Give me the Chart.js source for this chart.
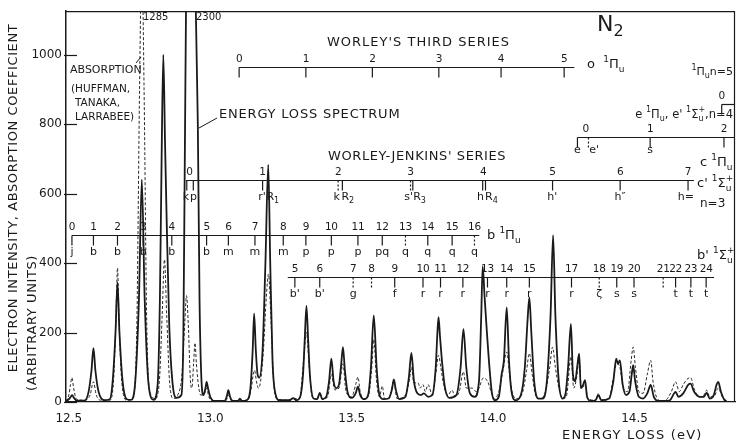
<!DOCTYPE html>
<html>
<head>
<meta charset="utf-8">
<script src="https://cdn.jsdelivr.net/npm/chart.js@4.4.0/dist/chart.umd.min.js"></script>
<style>
  html, body { margin: 0; padding: 0; background: #fff; }
</style>
</head>
<body>
<canvas id="spectrum" width="737" height="440"></canvas>
<script>
const xTicks = [12.5, 13.0, 13.5, 14.0, 14.5];
const yTicks = [0, 200, 400, 600, 800, 1000];

// energy loss spectrum (solid line), energy in eV / intensity
const lossE = [12.490, 12.500, 12.507, 12.512, 12.518, 12.528, 12.555, 12.570, 12.580, 12.587, 12.594, 12.605, 12.625,
  12.645, 12.655, 12.665, 12.672, 12.679, 12.690, 12.705, 12.720, 12.735, 12.748, 12.758, 12.768, 12.782, 12.800,
  12.814, 12.822, 12.828, 12.834, 12.840, 12.846, 12.855, 12.866, 12.880, 12.898, 12.905, 12.910, 12.916, 12.930,
  12.945, 12.956, 12.962, 12.968, 12.976, 12.983, 12.987, 12.992, 13.000, 13.015, 13.050, 13.058, 13.064, 13.070,
  13.080, 13.098, 13.105, 13.112, 13.130, 13.142, 13.150, 13.155, 13.161, 13.167, 13.173, 13.185, 13.195, 13.205,
  13.212, 13.220, 13.230, 13.245, 13.280, 13.293, 13.305, 13.318, 13.328, 13.334, 13.340, 13.346, 13.352, 13.365,
  13.378, 13.387, 13.396, 13.410, 13.420, 13.428, 13.436, 13.445, 13.455, 13.463, 13.469, 13.476, 13.485, 13.500,
  13.514, 13.522, 13.530, 13.545, 13.558, 13.568, 13.578, 13.588, 13.598, 13.612, 13.630, 13.642, 13.649, 13.656,
  13.668, 13.690, 13.702, 13.711, 13.720, 13.732, 13.745, 13.755, 13.770, 13.785, 13.797, 13.803, 13.807, 13.812,
  13.820, 13.830, 13.845, 13.870, 13.885, 13.895, 13.905, 13.918, 13.935, 13.950, 13.958, 13.963, 13.970, 13.978,
  13.985, 13.995, 14.005, 14.020, 14.030, 14.038, 14.048, 14.056, 14.065, 14.080, 14.098, 14.112, 14.122, 14.128,
  14.135, 14.145, 14.160, 14.175, 14.190, 14.203, 14.212, 14.220, 14.232, 14.245, 14.255, 14.265, 14.275, 14.282,
  14.290, 14.297, 14.304, 14.310, 14.316, 14.325, 14.332, 14.345, 14.362, 14.372, 14.382, 14.410, 14.425, 14.435,
  14.441, 14.448, 14.458, 14.470, 14.482, 14.490, 14.495, 14.502, 14.515, 14.530, 14.545, 14.557, 14.568, 14.585,
  14.610, 14.625, 14.640, 14.645, 14.655, 14.672, 14.690, 14.698, 14.710, 14.730, 14.745, 14.755, 14.765, 14.780,
  14.790, 14.796, 14.805, 14.818, 14.826];
const lossI = [3, 8, 15, 20, 12, 4, 4, 30, 90, 155, 90, 30, 5,
  8, 60, 200, 344, 200, 60, 8, 6, 60, 300, 640, 300, 50, 6,
  50, 300, 700, 1000, 750, 520, 220, 60, 12, 20, 200, 700, 1300, 2300,
  1300, 800, 300, 80, 20, 40, 58, 40, 15, 3, 3, 15, 34, 15,
  3, 3, 10, 3, 6, 40, 150, 254, 150, 80, 70, 150, 400, 683,
  400, 120, 25, 5, 5, 11, 5, 15, 80, 180, 277, 180, 80, 10,
  8, 26, 8, 15, 60, 125, 60, 40, 50, 110, 158, 90, 30, 12,
  25, 44, 20, 8, 20, 100, 249, 100, 20, 8, 10, 35, 65, 35,
  8, 15, 70, 141, 60, 25, 20, 25, 15, 20, 100, 200, 244, 190,
  110, 40, 12, 20, 100, 210, 100, 25, 15, 60, 250, 390, 300, 200,
  120, 30, 5, 15, 80, 120, 272, 120, 30, 5, 20, 100, 240, 301,
  200, 60, 10, 10, 60, 250, 480, 250, 60, 10, 20, 100, 225, 80,
  60, 100, 139, 40, 45, 63, 15, 3, 5, 20, 5, 10, 60, 125,
  110, 120, 50, 20, 30, 80, 106, 60, 15, 10, 25, 49, 15, 3,
  3, 5, 25, 29, 15, 25, 50, 53, 30, 15, 15, 27, 10, 20,
  50, 58, 30, 5, 2];

// absorption coefficient, Huffman, Tanaka, Larrabee (dashed line)
const absE = [12.490, 12.500, 12.506, 12.511, 12.517, 12.527, 12.555, 12.575, 12.587, 12.597, 12.615, 12.645, 12.658,
  12.666, 12.672, 12.678, 12.688, 12.705, 12.725, 12.740, 12.750, 12.758, 12.766, 12.776, 12.790, 12.805, 12.820,
  12.830, 12.838, 12.846, 12.856, 12.870, 12.885, 12.900, 12.910, 12.916, 12.922, 12.930, 12.935, 12.941, 12.946,
  12.951, 12.958, 12.966, 12.980, 12.987, 12.995, 13.010, 13.055, 13.064, 13.075, 13.130, 13.145, 13.152, 13.157,
  13.163, 13.170, 13.178, 13.188, 13.198, 13.206, 13.214, 13.224, 13.235, 13.270, 13.300, 13.315, 13.330, 13.340,
  13.350, 13.360, 13.378, 13.387, 13.397, 13.415, 13.428, 13.440, 13.455, 13.469, 13.480, 13.500, 13.514, 13.522,
  13.530, 13.545, 13.560, 13.570, 13.578, 13.588, 13.598, 13.608, 13.616, 13.632, 13.649, 13.660, 13.690, 13.705,
  13.711, 13.720, 13.735, 13.741, 13.752, 13.760, 13.770, 13.785, 13.797, 13.807, 13.815, 13.825, 13.840, 13.855,
  13.865, 13.880, 13.895, 13.905, 13.925, 13.940, 13.950, 13.965, 13.980, 13.995, 14.005, 14.020, 14.035, 14.048,
  14.058, 14.070, 14.085, 14.105, 14.118, 14.128, 14.138, 14.150, 14.165, 14.185, 14.200, 14.210, 14.220, 14.235,
  14.250, 14.260, 14.275, 14.285, 14.295, 14.304, 14.312, 14.325, 14.335, 14.362, 14.372, 14.382, 14.410, 14.425,
  14.437, 14.448, 14.460, 14.475, 14.488, 14.495, 14.503, 14.515, 14.530, 14.545, 14.557, 14.565, 14.580, 14.595,
  14.610, 14.630, 14.645, 14.658, 14.672, 14.685, 14.698, 14.712, 14.730, 14.745, 14.755, 14.765, 14.780, 14.796,
  14.810, 14.826];
const absK = [2, 20, 50, 70, 40, 8, 5, 20, 58, 20, 5, 5, 60,
  220, 386, 220, 50, 5, 10, 200, 900, 1285, 900, 200, 20, 10, 60,
  250, 410, 250, 60, 10, 20, 80, 230, 306, 230, 60, 40, 110, 170,
  110, 50, 20, 25, 40, 15, 3, 3, 20, 3, 5, 40, 80, 91,
  60, 40, 60, 150, 300, 368, 250, 60, 10, 5, 10, 10, 120, 200,
  100, 15, 8, 26, 8, 15, 80, 35, 40, 110, 30, 15, 50, 72,
  30, 8, 20, 90, 180, 60, 15, 46, 10, 10, 60, 10, 20, 70,
  100, 55, 55, 40, 50, 30, 50, 20, 80, 134, 100, 50, 20, 34,
  15, 30, 87, 40, 40, 30, 40, 69, 60, 25, 10, 30, 91, 144,
  80, 20, 10, 30, 90, 140, 80, 20, 10, 30, 100, 158, 100, 30,
  10, 20, 130, 40, 70, 122, 40, 50, 10, 5, 25, 5, 10, 70,
  110, 100, 40, 30, 120, 158, 100, 30, 25, 80, 120, 60, 10, 3,
  5, 30, 58, 30, 50, 65, 70, 35, 15, 20, 34, 15, 15, 40,
  15, 3];

// vibrational assignments (eV)
const worleyNum = ["0", "1", "2", "3", "4", "5"];
const worleyE = [13.102, 13.338, 13.573, 13.808, 14.028, 14.251];

const n5Num = ["0"];
const n5E = [14.808];

const eNum = ["0", "1", "2"];
const eNumE = [14.327, 14.555, 14.816];
const eTickE = [14.298, 14.337, 14.555, 14.816];
const eLab = ["e", "e'", "s"];
const eLabE = [14.298, 14.357, 14.555];

const wjNum = ["0", "1", "2", "3", "4", "5", "6", "7"];
const wjNumE = [12.926, 13.184, 13.452, 13.708, 13.965, 14.210, 14.449, 14.689];
const wjTickE = [12.917, 12.940, 13.185, 13.452, 13.467, 13.708, 13.716, 13.963, 13.973, 14.210, 14.449, 14.689];
const wjLab = ["k", "p'", "r'", "R_{1}", "k", "R_{2}", "s'", "R_{3}", "h", "R_{4}", "h'", "h\u2033", "h="];
const wjLabE = [12.914, 12.946, 13.183, 13.221, 13.447, 13.486, 13.701, 13.740, 13.955, 13.994, 14.209, 14.449, 14.681];

const bNum = ["0", "1", "2", "3", "4", "5", "6", "7", "8", "9", "10", "11", "12", "13", "14", "15", "16"];
const bE = [12.511, 12.587, 12.672, 12.763, 12.864, 12.987, 13.064, 13.158, 13.258, 13.338, 13.428, 13.522,
  13.608, 13.690, 13.769, 13.855, 13.934];
const bLab = ["j", "b", "b", "b", "b", "b", "m", "m", "m", "p", "p", "p", "pq", "q", "q", "q", "q"];

const bpNum = ["5", "6", "7", "8", "9", "10", "11", "12", "13", "14", "15", "17", "18", "19", "20", "21", "22", "23", "24"];
const bpE = [13.299, 13.387, 13.505, 13.570, 13.652, 13.752, 13.814, 13.893, 13.980, 14.048, 14.128, 14.277,
  14.375, 14.437, 14.498, 14.601, 14.645, 14.699, 14.753];
const bpLab = ["b'", "b'", "g", "", "f", "r", "r", "r", "r", "r", "r", "r", "\u03b6", "s", "s", "", "t", "t", "t"];

const FONT = '"DejaVu Sans", sans-serif';
const INK = "#1a1a1a";

const bands = [
  { level: 963, from: 13.102, to: 14.287, ticks: worleyE, dashed: [], nums: worleyNum, numE: worleyE },
  { level: 857, from: 14.808, to: null, ticks: n5E, dashed: [], nums: n5Num, numE: n5E },
  { level: 763, from: 14.298, to: null, ticks: eTickE, dashed: [1], nums: eNum, numE: eNumE,
    labs: eLab, labE: eLabE, labGap: 13 },
  { level: 640, from: 12.914, to: 14.710, ticks: wjTickE, dashed: [3, 5], nums: wjNum, numE: wjNumE,
    labs: wjLab, labE: wjLabE },
  { level: 480, from: 12.511, to: 13.951, ticks: bE, dashed: [13, 16], nums: bNum, numE: bE,
    labs: bLab, labE: bE },
  { level: 360, from: 13.274, to: 14.781, ticks: bpE, dashed: [2, 3, 12, 15], nums: bpNum, numE: bpE,
    labs: bpLab, labE: bpE },
];

// text with ^{sup} and _{sub}; a sub right after a sup is stacked under it
function parseRich(str) {
  const out = [];
  let i = 0;
  while (i < str.length) {
    if ((str[i] === "^" || str[i] === "_") && str[i + 1] === "{") {
      const j = str.indexOf("}", i);
      out.push({ t: str.slice(i + 2, j), k: str[i] === "^" ? "sup" : "sub" });
      i = j + 1;
    } else {
      let j = i;
      while (j < str.length && !((str[j] === "^" || str[j] === "_") && str[j + 1] === "{")) j++;
      out.push({ t: str.slice(i, j), k: "n" });
      i = j;
    }
  }
  return out;
}

function drawRich(ctx, str, x, y, size, align, spacing) {
  const small = Math.round(size * 0.72);
  const items = [];
  let cx = 0;
  let prev = null;
  ctx.letterSpacing = (spacing || 0) + "px";
  parseRich(str).forEach((s) => {
    const fs = s.k === "n" ? size : small;
    ctx.font = fs + "px " + FONT;
    const w = ctx.measureText(s.t).width;
    let sx = cx;
    if (s.k === "sub" && prev && prev.k === "sup") {
      sx = prev.x;
      cx = Math.max(cx, sx + w);
    } else {
      cx = sx + w;
    }
    const dy = s.k === "sup" ? -size * 0.4 : s.k === "sub" ? size * 0.32 : 0;
    const it = { t: s.t, fs: fs, x: sx, dy: dy, k: s.k };
    items.push(it);
    prev = it;
  });
  const off = align === "center" ? -cx / 2 : align === "right" ? -cx : 0;
  ctx.textAlign = "left";
  ctx.textBaseline = "middle";
  items.forEach((it) => {
    ctx.font = it.fs + "px " + FONT;
    ctx.fillText(it.t, x + off + it.x, y + it.dy);
  });
  ctx.letterSpacing = "0px";
}

function drawBand(chart, s) {
  const { ctx, chartArea: a, scales: { x, y } } = chart;
  const px = (e) => x.getPixelForValue(e);
  const ly = Math.round(y.getPixelForValue(s.level)) + 0.5;
  ctx.beginPath();
  ctx.moveTo(px(s.from), ly);
  ctx.lineTo(s.to == null ? a.right : px(s.to), ly);
  ctx.stroke();
  s.ticks.forEach((e, i) => {
    ctx.setLineDash(s.dashed.includes(i) ? [2, 2] : []);
    ctx.beginPath();
    ctx.moveTo(px(e), ly);
    ctx.lineTo(px(e), ly + 10);
    ctx.stroke();
  });
  ctx.setLineDash([]);
  s.nums.forEach((n, i) => drawRich(ctx, n, px(s.numE[i]), ly - 8, 10.5, "center", -0.3));
  (s.labs || []).forEach((l, i) => {
    if (l) drawRich(ctx, l, px(s.labE[i]), ly + (s.labGap || 17), 11, "center");
  });
}

// [text, x, y, size, align, letter spacing]
const texts = [
  ["N_{2}", 597, 25, 22, "left", 0],
  ["WORLEY'S THIRD SERIES", 327, 43, 13, "left", 1],
  ["WORLEY-JENKINS' SERIES", 328, 157, 13, "left", 0.6],
  ["ENERGY LOSS SPECTRUM", 219, 115, 13, "left", 0.8],
  ["ABSORPTION", 70, 70, 11, "left", 0],
  ["(HUFFMAN,", 71, 89, 10.5, "left", 0],
  ["TANAKA,", 75, 103, 10.5, "left", 0],
  ["LARRABEE)", 75, 117, 10.5, "left", 0],
  ["1285", 143, 17, 10, "left", 0],
  ["2300", 196, 17, 10, "left", 0],
  ["o  ^{1}\u03a0_{u}", 587, 65, 13, "left", 0],
  ["^{1}\u03a0_{u}n=5", 733, 72, 11, "right", 0],
  ["e ^{1}\u03a0_{u}, e' ^{1}\u03a3^{+}_{u},n=4", 733, 115, 11.5, "right", 0],
  ["c ^{1}\u03a0_{u}", 700, 163, 13, "left", 0],
  ["c' ^{1}\u03a3^{+}_{u}", 697, 184, 13, "left", 0],
  ["n=3", 700, 204, 12, "left", 0],
  ["b ^{1}\u03a0_{u}", 487, 236, 13, "left", 0],
  ["b' ^{1}\u03a3^{+}_{u}", 697, 256, 13, "left", 0],
  ["ENERGY LOSS (eV)", 562, 436, 13, "left", 1.2],
];

const overlay = {
  id: "overlay",
  afterDraw: (chart) => {
    const { ctx, chartArea: a, scales: { y } } = chart;
    ctx.save();
    ctx.strokeStyle = INK;
    ctx.fillStyle = INK;
    ctx.lineWidth = 1.2;

    // frame top and right
    ctx.beginPath();
    ctx.moveTo(a.left, a.top + 0.5);
    ctx.lineTo(a.right - 0.5, a.top + 0.5);
    ctx.lineTo(a.right - 0.5, a.bottom);
    ctx.stroke();

    // y tick marks cross the axis
    yTicks.forEach((v) => {
      const py = Math.round(y.getPixelForValue(v)) + 0.5;
      ctx.beginPath();
      ctx.moveTo(a.left - 2, py);
      ctx.lineTo(a.left + 11, py);
      ctx.stroke();
    });

    bands.forEach((s) => drawBand(chart, s));

    texts.forEach((t) => drawRich(ctx, t[0], t[1], t[2], t[3], t[4], t[5]));

    // leaders
    ctx.lineWidth = 1;
    ctx.beginPath();
    ctx.moveTo(136, 63);
    ctx.lineTo(141, 57);
    ctx.moveTo(217, 118);
    ctx.lineTo(199, 128);
    ctx.stroke();

    // y axis titles
    ctx.translate(14, 198);
    ctx.rotate(-Math.PI / 2);
    drawRich(ctx, "ELECTRON INTENSITY, ABSORPTION COEFFICIENT", 0, 0, 13, "center", 0.6);
    ctx.rotate(Math.PI / 2);
    ctx.translate(19, 125);
    ctx.rotate(-Math.PI / 2);
    drawRich(ctx, "(ARBITRARY UNITS)", 0, 0, 13, "center", 0.6);
    ctx.restore();
  },
};

const toPoints = (xs, ys) => xs.map((e, i) => ({ x: e, y: ys[i] }));

new Chart(document.getElementById("spectrum").getContext("2d"), {
  type: "line",
  data: {
    datasets: [
      {
        label: "Energy loss spectrum",
        data: toPoints(lossE, lossI),
        borderColor: INK,
        borderWidth: 1.8,
        pointRadius: 0,
        cubicInterpolationMode: "monotone",
        fill: false,
      },
      {
        label: "Absorption",
        data: toPoints(absE, absK),
        borderColor: "#2a2a2a",
        borderWidth: 1,
        borderDash: [3, 2],
        pointRadius: 0,
        cubicInterpolationMode: "monotone",
        fill: false,
      },
    ],
  },
  options: {
    responsive: false,
    animation: false,
    devicePixelRatio: 1,
    layout: { padding: { top: 8, right: 2, left: 0, bottom: 0 } },
    scales: {
      x: {
        type: "linear",
        min: 12.49,
        max: 14.855,
        afterFit: (s) => { s.height = 38; },
        afterBuildTicks: (s) => { s.ticks = xTicks.map((v) => ({ value: v })); },
        grid: { display: false, drawTicks: false },
        border: { display: true, color: INK, width: 1.3 },
        ticks: {
          padding: 10,
          maxRotation: 0,
          autoSkip: false,
          color: INK,
          font: { family: FONT, size: 12 },
          callback: (v) => Number(v).toFixed(1),
        },
      },
      y: {
        min: 0,
        max: 1125,
        afterFit: (s) => { s.width = 66; },
        afterBuildTicks: (s) => { s.ticks = yTicks.map((v) => ({ value: v })); },
        grid: { display: false, drawTicks: false },
        border: { display: true, color: INK, width: 1.5 },
        ticks: {
          padding: 4,
          color: INK,
          font: { family: FONT, size: 12 },
          callback: (v) => String(v),
        },
      },
    },
    plugins: {
      legend: { display: false },
      tooltip: { enabled: false },
    },
  },
  plugins: [overlay],
});
</script>
</body>
</html>
